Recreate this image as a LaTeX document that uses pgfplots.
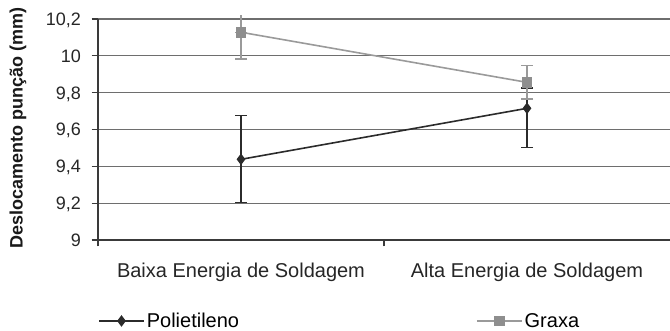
\documentclass[border=0pt]{standalone}
\usepackage{fontspec}
\setmainfont{Liberation Sans}
\usepackage{pgfplots}
\usepackage{pgfplotstable}
\pgfplotsset{compat=1.18}

\definecolor{poli}{HTML}{2B2B2B}
\definecolor{grax}{HTML}{8E8E8E}
\definecolor{graxline}{HTML}{9A9A9A}
\definecolor{gridc}{HTML}{6E6E6E}
\definecolor{axisc}{HTML}{3A3A3A}

% punch displacement: mean, upper and lower error
\pgfplotstableread{
x   y      ep     em
0.5 9.438  0.237  0.235
1.5 9.715  0.110  0.211
}\polietileno
\pgfplotstableread{
x   y      ep     em
0.5 10.128 0.000  0.145
1.5 9.856  0.090  0.090
}\graxa
\pgfplotstableread{
x   y      ep     em
0.5 10.128 0.095  0.000
}\graxatop

\begin{document}
\begin{tikzpicture}
\begin{axis}[
  at={(98pt,91pt)}, anchor=south west,
  width=572pt, height=221pt, scale only axis,
  xmin=0, xmax=2, ymin=9, ymax=10.2,
  clip=false,
  axis x line*=bottom, axis y line*=left,
  axis line style={draw=axisc, line width=1.3pt},
  ytick={9,9.2,9.4,9.6,9.8,10,10.2},
  ymajorgrids,
  major grid style={draw=gridc, line width=1.1pt},
  tick align=outside,
  major tick length=6.5pt,
  y tick style={draw=axisc, line width=1.3pt},
  xtick={0.5,1.5},
  xticklabels={Baixa Energia de Soldagem, Alta Energia de Soldagem},
  major x tick style={draw=none},
  extra x ticks={0,1},
  extra x tick labels={},
  extra x tick style={grid=none, major x tick style={draw=axisc, line width=1.3pt}},
  tick label style={text=black!85},
  /pgf/number format/.cd, use comma, 1000 sep={}, assume math mode=true,
  /pgfplots/.cd,
  yticklabel style={font=\fontsize{18}{21}\selectfont, anchor=base east, yshift=-6.4pt, xshift=-7pt},
  xticklabel style={font=\fontsize{20}{23}\selectfont, anchor=base, yshift=-31pt},
  legend columns=2,
  legend style={at={(0,-0.3665)}, anchor=west, draw=none, fill=none,
    inner sep=0pt, font=\fontsize{20}{23}\selectfont,
    /tikz/every even column/.append style={column sep=235pt}},
  legend image code/.code={
    \draw[mark repeat=2, mark phase=2, #1]
      plot coordinates {(0pt,0pt) (22.5pt,0pt) (45pt,0pt)};},
]
% Polietileno
\addplot[poli, line width=1.6pt, mark=diamond*, mark size=4.5pt,
  mark options={fill=poli, draw=poli},
  error bars/.cd, y dir=both, y explicit,
  error bar style={line width=1.3pt, poli},
  error mark options={rotate=90, mark size=6pt, line width=1.3pt, poli}]
  table[x=x, y=y, y error plus=ep, y error minus=em] {\polietileno};
\addlegendentry{Polietileno}
% Graxa: error bars first, then line and markers
\addplot[forget plot, draw=none, no marks,
  error bars/.cd, y dir=both, y explicit,
  error bar style={line width=1.3pt, graxline},
  error mark options={rotate=90, mark size=6pt, line width=1.3pt, graxline}]
  table[x=x, y=y, y error plus=ep, y error minus=em] {\graxa};
\addplot[forget plot, draw=none, no marks,
  error bars/.cd, y dir=plus, y explicit, error mark=none,
  error bar style={line width=1.3pt, graxline}]
  table[x=x, y=y, y error plus=ep, y error minus=em] {\graxatop};
\addplot[graxline, line width=1.6pt, mark=square*, mark size=4.6pt,
  mark options={fill=grax, draw=grax}]
  table[x=x, y=y] {\graxa};
\addlegendentry{Graxa}
\end{axis}
\node[rotate=90, font=\bfseries\fontsize{18}{20}\selectfont, text=black!90]
  at (18pt,203pt) {Deslocamento punção (mm)};
\pgfresetboundingbox
\path[use as bounding box] (0,0) rectangle (670pt,331pt);
\end{tikzpicture}
\end{document}
